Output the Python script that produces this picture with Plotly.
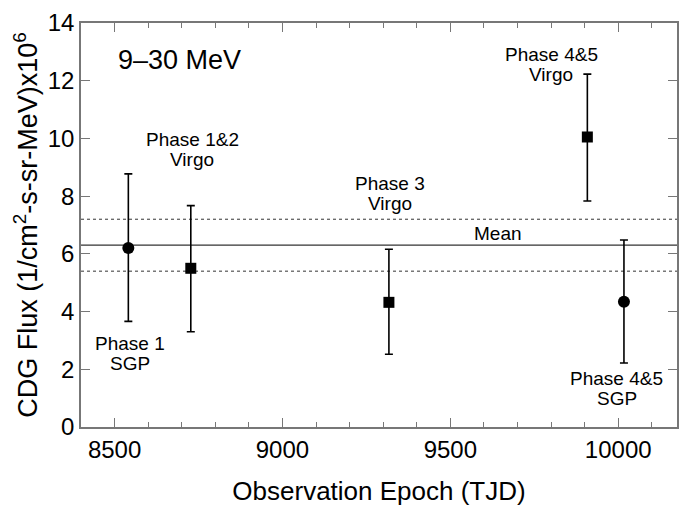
import plotly.graph_objects as go

# Data
sgp_x = [8541, 10017]
sgp_y = [6.2, 4.34]
sgp_hi = [8.77, 6.48]
sgp_lo = [3.66, 2.22]

virgo_x = [8727, 9317, 9908]
virgo_y = [5.5, 4.32, 10.05]
virgo_hi = [7.67, 6.16, 12.23]
virgo_lo = [3.30, 2.52, 7.83]

mean_val = 6.3
mean_band = [5.4, 7.2]

label_lines = [["Phase 1", "SGP"], ["Phase 1&2", "Virgo"], ["Phase 3", "Virgo"],
               ["Phase 4&5", "Virgo"], ["Phase 4&5", "SGP"]]
label_x = [8545, 8731, 9319, 9800, 9995]
label_y = [2.53, 9.6, 8.1, 12.55, 1.35]

x_ticks = [8500, 9000, 9500, 10000]
x_ticktext = ["8500", "9000", "9500", "10000"]
y_ticks = [0, 2, 4, 6, 8, 10, 12, 14]

FONT = "Liberation Sans, Arial, Helvetica, sans-serif"

fig = go.Figure()

def err(y, hi, lo):
    return dict(type="data", symmetric=False,
                array=[h - v for h, v in zip(hi, y)],
                arrayminus=[v - l for v, l in zip(y, lo)],
                color="black", thickness=1.6, width=4)

fig.add_trace(go.Scatter(x=sgp_x, y=sgp_y, mode="markers",
                         marker=dict(symbol="circle", size=12, color="black"),
                         error_y=err(sgp_y, sgp_hi, sgp_lo), showlegend=False))
fig.add_trace(go.Scatter(x=virgo_x, y=virgo_y, mode="markers",
                         marker=dict(symbol="square", size=11, color="black"),
                         error_y=err(virgo_y, virgo_hi, virgo_lo), showlegend=False))

# mean and band lines
fig.add_shape(type="line", xref="paper", x0=0, x1=1, yref="y", y0=mean_val, y1=mean_val,
              line=dict(color="#333333", width=1.2), layer="below")
for b in mean_band:
    fig.add_shape(type="line", xref="paper", x0=0, x1=1, yref="y", y0=b, y1=b,
                  line=dict(color="#333333", width=1, dash="3px,3px"), layer="below")

annotations = []
for lines, lx, ly in zip(label_lines, label_x, label_y):
    n = len(lines)
    for i, t in enumerate(lines):
        shift = (n - 1) / 2 * 20 - i * 20
        annotations.append(dict(x=lx, y=ly, xref="x", yref="y", text=t, showarrow=False,
                                yshift=shift, font=dict(family=FONT, size=19, color="black")))
annotations.append(dict(x=9643, y=6.69, xref="x", yref="y", text="Mean", showarrow=False,
                        font=dict(family=FONT, size=19, color="black")))
annotations.append(dict(x=8693, y=12.72, xref="x", yref="y", text="9–30 MeV", showarrow=False,
                        font=dict(family=FONT, size=27, color="black")))

axis_common = dict(showline=True, linecolor="#777777", linewidth=1.5, mirror="allticks",
                   ticks="inside", tickcolor="#777777", tickwidth=1.2,
                   showgrid=False, zeroline=False,
                   tickfont=dict(family=FONT, size=24, color="black"))

fig.update_layout(
    width=680, height=508,
    margin=dict(l=81, r=1, t=23, b=81),
    paper_bgcolor="white", plot_bgcolor="white",
    annotations=annotations,
    xaxis=dict(range=[8400, 10175], tickvals=x_ticks, ticktext=x_ticktext, ticklen=9,
               minor=dict(dtick=100, tick0=8400, ticks="inside", ticklen=5,
                          tickcolor="#777777", tickwidth=1.2),
               title=dict(text="Observation Epoch (TJD)", standoff=20,
                          font=dict(family=FONT, size=26, color="black")),
               **axis_common),
    yaxis=dict(range=[0, 14], tickvals=y_ticks, ticklen=9,
               title=dict(text="CDG Flux (1/cm<sup>2</sup>-s-sr-MeV)x10<sup>6</sup>", standoff=2,
                          font=dict(family=FONT, size=27, color="black")),
               **axis_common),
)

fig.write_html("out.html")
